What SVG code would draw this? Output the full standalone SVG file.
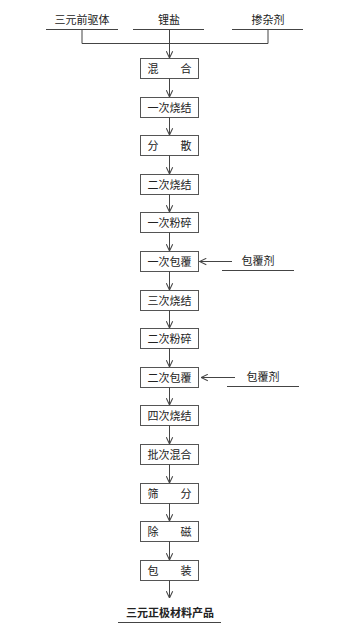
<svg xmlns="http://www.w3.org/2000/svg" width="355" height="629" viewBox="0 0 355 629">
<defs>
<style>
.bx{fill:#fff;stroke:#555;stroke-width:1}
.t{font-family:"Noto Sans CJK SC","Liberation Sans",sans-serif;font-size:11px;fill:#222;text-anchor:middle}
.b{font-weight:bold}
.ln{stroke:#444;stroke-width:1;fill:none}
.ul{stroke:#444;stroke-width:1.2;fill:none}
</style>
<marker id="ah" viewBox="0 0 10 10" refX="9.5" refY="5" markerWidth="8" markerHeight="8" markerUnits="userSpaceOnUse" orient="auto">
<path d="M1,1 L9.5,5 L1,9" fill="none" stroke="#444" stroke-width="1.3"/>
</marker>
</defs>
<rect width="355" height="629" fill="#fff"/>

<g id="inputs">
<g id="n-qianqu"><text class="t" x="82" y="24">三元前驱体</text><line class="ul" x1="46" y1="29.5" x2="118" y2="29.5"/></g>
<g id="n-lityan"><text class="t" x="169" y="24">锂盐</text><line class="ul" x1="133" y1="29.5" x2="204" y2="29.5"/></g>
<g id="n-canza"><text class="t" x="268" y="24">掺杂剂</text><line class="ul" x1="232" y1="29.5" x2="303" y2="29.5"/></g>
<g id="n-baofu1"><text class="t" x="258" y="265">包覆剂</text><line class="ul" x1="222" y1="270.5" x2="294" y2="270.5"/></g>
<g id="n-baofu2"><text class="t" x="263" y="381">包覆剂</text><line class="ul" x1="227" y1="386.5" x2="299" y2="386.5"/></g>
<g id="n-product"><text class="t b" x="170" y="617">三元正极材料产品</text><line class="ul" x1="118" y1="622.5" x2="221" y2="622.5"/></g>
</g>

<g id="boxes">
<g id="s1"><rect class="bx" x="140.5" y="58.5" width="58" height="20"/><text class="t" x="169.5" y="72.5" textLength="44" lengthAdjust="spacing">混合</text></g>
<g id="s2"><rect class="bx" x="140.5" y="97.5" width="58" height="20"/><text class="t" x="169.5" y="111.5">一次烧结</text></g>
<g id="s3"><rect class="bx" x="140.5" y="135.5" width="58" height="20"/><text class="t" x="169.5" y="149.5" textLength="44" lengthAdjust="spacing">分散</text></g>
<g id="s4"><rect class="bx" x="140.5" y="174.5" width="58" height="20"/><text class="t" x="169.5" y="188.5">二次烧结</text></g>
<g id="s5"><rect class="bx" x="140.5" y="212.5" width="58" height="20"/><text class="t" x="169.5" y="226.5">一次粉碎</text></g>
<g id="s6"><rect class="bx" x="140.5" y="251.5" width="58" height="20"/><text class="t" x="169.5" y="265.5">一次包覆</text></g>
<g id="s7"><rect class="bx" x="140.5" y="290.5" width="58" height="20"/><text class="t" x="169.5" y="304.5">三次烧结</text></g>
<g id="s8"><rect class="bx" x="140.5" y="328.5" width="58" height="20"/><text class="t" x="169.5" y="342.5">二次粉碎</text></g>
<g id="s9"><rect class="bx" x="140.5" y="367.5" width="58" height="20"/><text class="t" x="169.5" y="381.5">二次包覆</text></g>
<g id="s10"><rect class="bx" x="140.5" y="405.5" width="58" height="20"/><text class="t" x="169.5" y="419.5">四次烧结</text></g>
<g id="s11"><rect class="bx" x="140.5" y="444.5" width="58" height="20"/><text class="t" x="169.5" y="458.5">批次混合</text></g>
<g id="s12"><rect class="bx" x="140.5" y="483.5" width="58" height="20"/><text class="t" x="169.5" y="497.5" textLength="44" lengthAdjust="spacing">筛分</text></g>
<g id="s13"><rect class="bx" x="140.5" y="521.5" width="58" height="20"/><text class="t" x="169.5" y="535.5" textLength="44" lengthAdjust="spacing">除磁</text></g>
<g id="s14"><rect class="bx" x="140.5" y="560.5" width="58" height="20"/><text class="t" x="169.5" y="574.5" textLength="44" lengthAdjust="spacing">包装</text></g>
</g>

<g id="connectors">
<path class="ln" d="M82,29.5 V43.5 H268 V29.5"/>
<line class="ln" x1="169.5" y1="29.5" x2="169.5" y2="58" marker-end="url(#ah)"/>
<line class="ln" x1="169.5" y1="78.5" x2="169.5" y2="97" marker-end="url(#ah)"/>
<line class="ln" x1="169.5" y1="117.5" x2="169.5" y2="135" marker-end="url(#ah)"/>
<line class="ln" x1="169.5" y1="155.5" x2="169.5" y2="174" marker-end="url(#ah)"/>
<line class="ln" x1="169.5" y1="194.5" x2="169.5" y2="212" marker-end="url(#ah)"/>
<line class="ln" x1="169.5" y1="232.5" x2="169.5" y2="251" marker-end="url(#ah)"/>
<line class="ln" x1="169.5" y1="271.5" x2="169.5" y2="290" marker-end="url(#ah)"/>
<line class="ln" x1="169.5" y1="310.5" x2="169.5" y2="328" marker-end="url(#ah)"/>
<line class="ln" x1="169.5" y1="348.5" x2="169.5" y2="367" marker-end="url(#ah)"/>
<line class="ln" x1="169.5" y1="387.5" x2="169.5" y2="405" marker-end="url(#ah)"/>
<line class="ln" x1="169.5" y1="425.5" x2="169.5" y2="444" marker-end="url(#ah)"/>
<line class="ln" x1="169.5" y1="464.5" x2="169.5" y2="483" marker-end="url(#ah)"/>
<line class="ln" x1="169.5" y1="503.5" x2="169.5" y2="521" marker-end="url(#ah)"/>
<line class="ln" x1="169.5" y1="541.5" x2="169.5" y2="560" marker-end="url(#ah)"/>
<line class="ln" x1="169.5" y1="580.5" x2="169.5" y2="598" marker-end="url(#ah)"/>
<line class="ln" x1="232" y1="261.5" x2="199.5" y2="261.5" marker-end="url(#ah)"/>
<line class="ln" x1="235" y1="377.5" x2="201" y2="377.5" marker-end="url(#ah)"/>
</g>
</svg>
